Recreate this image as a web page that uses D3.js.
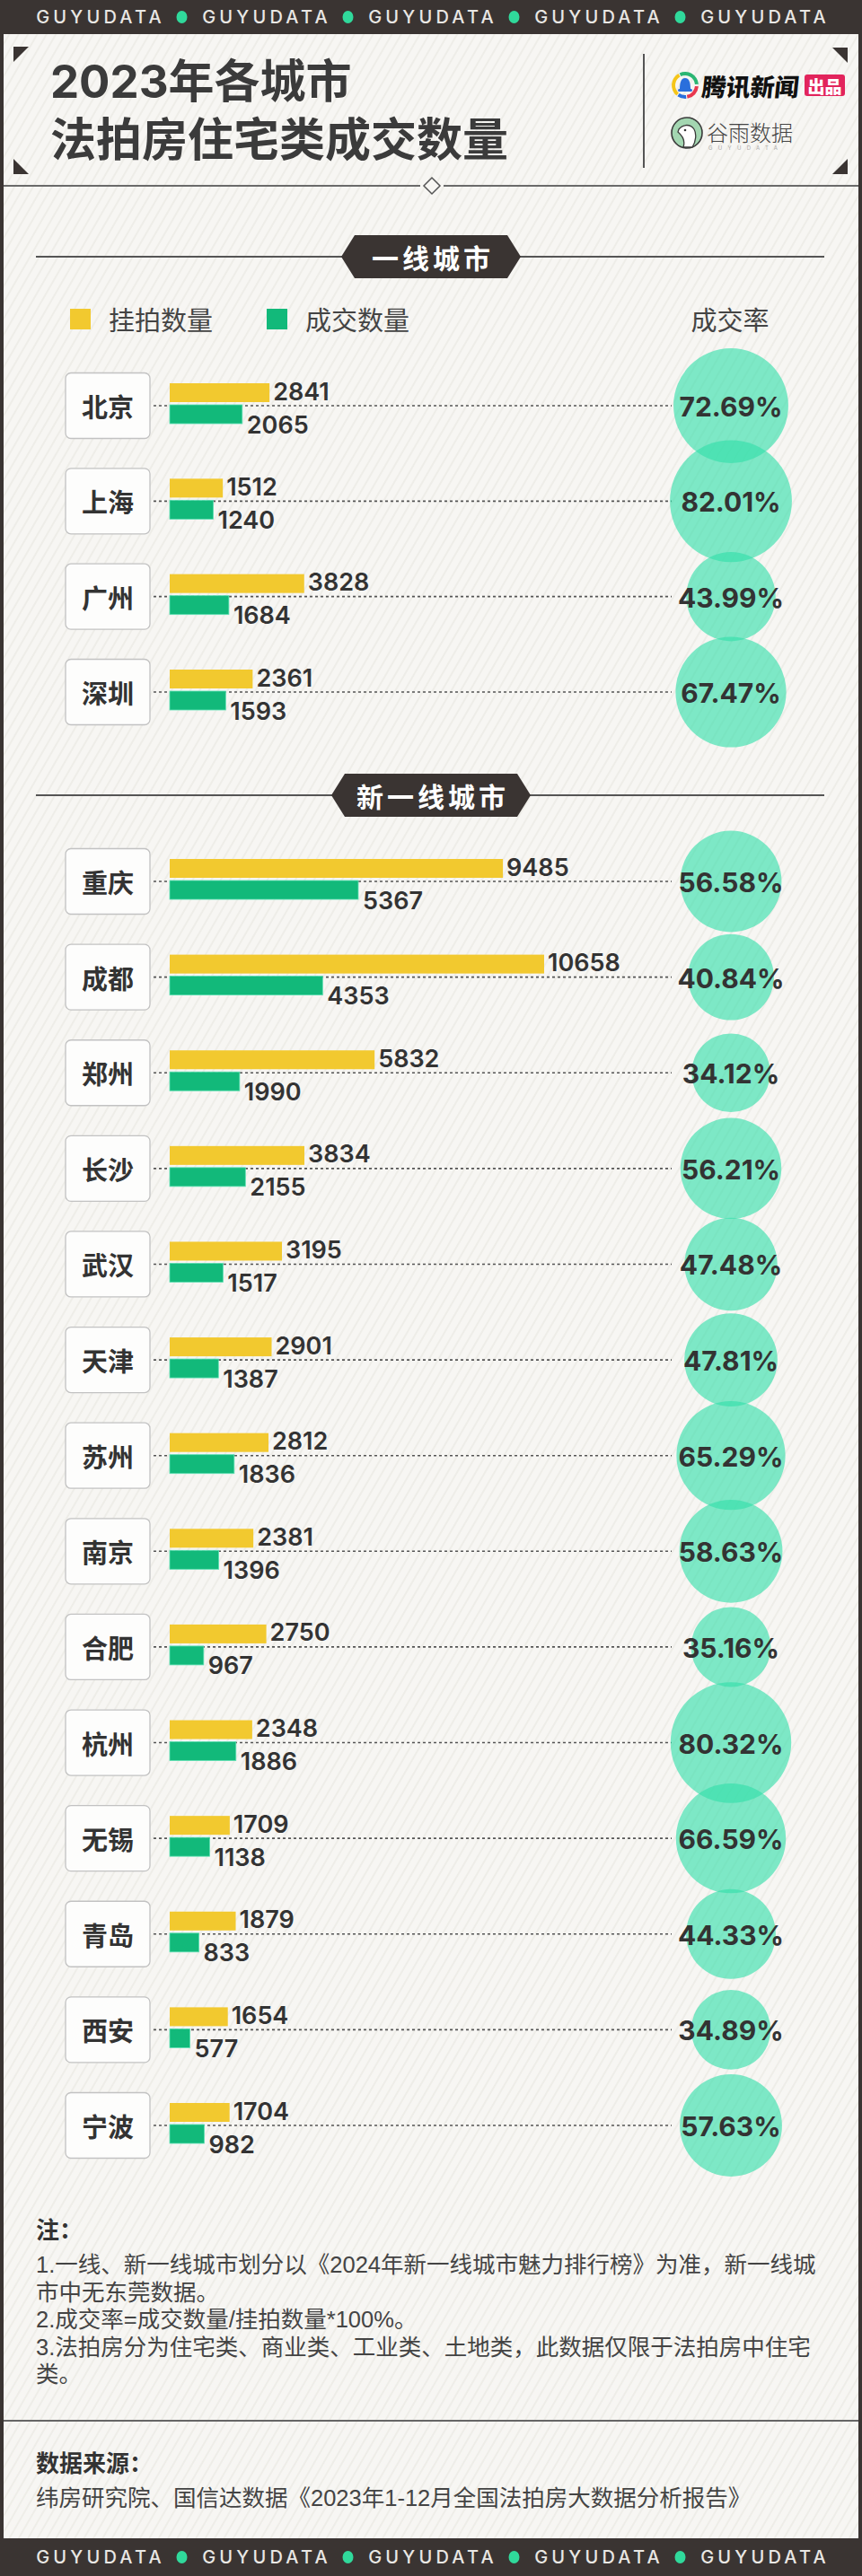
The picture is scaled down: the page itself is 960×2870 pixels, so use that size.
<!DOCTYPE html>
<html><head><meta charset="utf-8">
<script src="https://cdn.jsdelivr.net/npm/d3@7"></script>
<style>body{margin:0;background:#3a3432}svg{display:block}</style>
</head><body><svg id="c" width="960" height="2870"></svg>
<script>
// ---------------- DATA ----------------
const tier1Cities = ["北京","上海","广州","深圳"];
const tier1Listed = [2841,1512,3828,2361];
const tier1Sold   = [2065,1240,1684,1593];
const tier1Rate   = [72.69,82.01,43.99,67.47];

const tier2Cities = ["重庆","成都","郑州","长沙","武汉","天津","苏州","南京","合肥","杭州","无锡","青岛","西安","宁波"];
const tier2Listed = [9485,10658,5832,3834,3195,2901,2812,2381,2750,2348,1709,1879,1654,1704];
const tier2Sold   = [5367,4353,1990,2155,1517,1387,1836,1396,967,1886,1138,833,577,982];
const tier2Rate   = [56.58,40.84,34.12,56.21,47.48,47.81,65.29,58.63,35.16,80.32,66.59,44.33,34.89,57.63];

const sectionTitles = ["一线城市","新一线城市"];
const legendLabels = ["挂拍数量","成交数量"];
const rateLabel = "成交率";
const titleLines = ["2023年各城市","法拍房住宅类成交数量"];
const bandWord = "GUYUDATA";
const notesTitle = "注：";
const notesLines = [
  "1.一线、新一线城市划分以《2024年新一线城市魅力排行榜》为准，新一线城",
  "市中无东莞数据。",
  "2.成交率=成交数量/挂拍数量*100%。",
  "3.法拍房分为住宅类、商业类、工业类、土地类，此数据仅限于法拍房中住宅",
  "类。"
];
const sourceTitle = "数据来源：";
const sourceText = "纬房研究院、国信达数据《2023年1-12月全国法拍房大数据分析报告》";

// ---------------- STYLE ----------------
const DARK = "#3a3432", YELLOW = "#f2c92f", GREEN = "#12b97a", BUBBLE = "#32dfa9";
const CJK = "'Noto Sans CJK SC','Noto Sans',sans-serif";
const TITLE = "Inter,'Noto Sans CJK SC',sans-serif";
const NOTE = "'Liberation Sans','Noto Sans CJK SC',sans-serif";
const NUM = "Inter,'Noto Sans',sans-serif";

const svg = d3.select("#c");
const defs = svg.append("defs");
const pat = defs.append("pattern").attr("id","stripes").attr("patternUnits","userSpaceOnUse")
  .attr("width",9).attr("height",9).attr("patternTransform","rotate(30)");
pat.append("rect").attr("width",9).attr("height",9).attr("fill","#f7f6f3");
pat.append("line").attr("x1",1).attr("y1",0).attr("x2",1).attr("y2",9).attr("stroke","#ecebe6").attr("stroke-width",1.6);

// frame
svg.append("rect").attr("width",960).attr("height",2870).attr("fill",DARK);
svg.append("rect").attr("x",4).attr("y",38).attr("width",952).attr("height",2790).attr("fill","url(#stripes)");

// bands
function band(cy){
  const g = svg.append("g");
  const xs = d3.range(5).map(i => 110 + i*185);
  xs.forEach(x => g.append("text").attr("x",x+2).attr("y",cy).attr("text-anchor","middle")
    .attr("dominant-baseline","central").attr("font-family",NUM).attr("font-weight",500)
    .attr("font-size",20).attr("letter-spacing",4.2).attr("fill","#e9e7e4").text(bandWord));
  d3.range(4).forEach(i => g.append("ellipse").attr("cx",202.5+i*185).attr("cy",cy).attr("rx",6).attr("ry",7).attr("fill","#30d99b"));
}
band(19); band(2849);

// title corners
const tri = [[[15,52],[32,52],[15,69]],[[944,53],[927,53],[944,70]],[[15,177],[15,194],[32,194]],[[944,177],[944,194],[927,194]]];
tri.forEach(p => svg.append("path").attr("d","M"+p.map(q=>q.join(",")).join("L")+"Z").attr("fill",DARK));

// title
titleLines.forEach((t,i) => svg.append("text").attr("x",56).attr("y",[90,155][i]).attr("dominant-baseline","central")
  .attr("font-family",TITLE).attr("font-weight",700).attr("font-size",51).attr("fill","#3b3b3b").text(t));

// vertical divider
svg.append("line").attr("x1",717).attr("x2",717).attr("y1",60).attr("y2",187).attr("stroke","#555").attr("stroke-width",2);

// Tencent logo
(function(){
  const g = svg.append("g").attr("transform","translate(763,95)");
  const arc = d3.arc().innerRadius(11).outerRadius(15);
  [[-25,85,"#2bb673"],[95,170,"#e8384f"],[175,215,"#2a6fdc"],[220,330,"#f5c518"]].forEach(a =>
    g.append("path").attr("d",arc({startAngle:a[0]*Math.PI/180,endAngle:a[1]*Math.PI/180})).attr("fill",a[2]));
  g.append("path").attr("d","M-6,5 C-6,-2 -5,-8 0,-8 C5,-8 6,-2 6,5 Z").attr("fill","#2a6fdc");
  g.append("rect").attr("x",-8).attr("y",4).attr("width",16).attr("height",3).attr("rx",1.5).attr("fill","#2a6fdc");
  svg.append("text").attr("x",782).attr("y",96).attr("dominant-baseline","central").attr("font-family",CJK)
    .attr("font-weight",900).attr("font-size",27).attr("fill","#111").attr("transform","skewX(-6) translate(10,0)").text("腾讯新闻");
  svg.append("rect").attr("x",896).attr("y",83).attr("width",45).attr("height",24).attr("rx",3).attr("fill","#e2245c");
  svg.append("text").attr("x",918.5).attr("y",95.5).attr("text-anchor","middle").attr("dominant-baseline","central")
    .attr("font-family",CJK).attr("font-weight",900).attr("font-size",19).attr("fill","#fff").text("出品");
})();

// Guyu logo
(function(){
  const g = svg.append("g").attr("transform","translate(765,148)");
  g.append("circle").attr("r",17).attr("fill","#a3d6b1").attr("stroke","#3a3a3a").attr("stroke-width",1.6);
  g.append("path").attr("d","M-9,-4 C-4,-10 4,-10 8,-4 C11,1 10,10 6,16 L-4,16 C-2,10 -4,4 -10,-1 Z")
    .attr("fill","#fff").attr("stroke","#3a3a3a").attr("stroke-width",1.3);
  g.append("circle").attr("cx",-2).attr("cy",-3).attr("r",1.3).attr("fill","#333");
  svg.append("text").attr("x",787).attr("y",146).attr("dominant-baseline","central").attr("font-family",CJK)
    .attr("font-weight",300).attr("font-size",24).attr("fill","#444").text("谷雨数据");
  svg.append("text").attr("x",789).attr("y",164).attr("dominant-baseline","central").attr("font-family",NUM)
    .attr("font-size",6).attr("letter-spacing",6.3).attr("fill","#aaa").text(bandWord);
})();

// divider with diamond
svg.append("line").attr("x1",4).attr("x2",468).attr("y1",207).attr("y2",207).attr("stroke","#6a6a6a").attr("stroke-width",2);
svg.append("line").attr("x1",494).attr("x2",956).attr("y1",207).attr("y2",207).attr("stroke","#6a6a6a").attr("stroke-width",2);
svg.append("path").attr("d","M481,198 L490,207 L481,216 L472,207 Z").attr("fill","#f7f6f3").attr("stroke","#555").attr("stroke-width",1.5);

// section header
function sectionHeader(cy, label, half){
  svg.append("line").attr("x1",40).attr("x2",918).attr("y1",cy).attr("y2",cy).attr("stroke","#555").attr("stroke-width",2);
  const l = 480-half, r = 480+half;
  svg.append("path").attr("d",`M${l},${cy} L${l+15},${cy-24} L${r-15},${cy-24} L${r},${cy} L${r-15},${cy+24} L${l+15},${cy+24} Z`).attr("fill",DARK);
  svg.append("text").attr("x",482).attr("y",cy).attr("text-anchor","middle").attr("dominant-baseline","central")
    .attr("font-family",CJK).attr("font-weight",700).attr("font-size",30).attr("letter-spacing",4).attr("fill","#fff").text(label);
}
sectionHeader(286, sectionTitles[0], 100);
sectionHeader(886, sectionTitles[1], 111);

// legend
const legendColors = [YELLOW, GREEN];
[78,297].forEach((x,i) => {
  svg.append("rect").attr("x",x).attr("y",344).attr("width",23).attr("height",23).attr("fill",legendColors[i]);
  svg.append("text").attr("x",x+43).attr("y",355).attr("dominant-baseline","central").attr("font-family",CJK)
    .attr("font-size",29).attr("fill","#444").text(legendLabels[i]);
});
svg.append("text").attr("x",813).attr("y",355).attr("text-anchor","middle").attr("dominant-baseline","central")
  .attr("font-family",CJK).attr("font-size",29).attr("fill","#444").text(rateLabel);

// scales
const maxVal = d3.max(tier1Listed.concat(tier2Listed));
const x = d3.scaleLinear().domain([0, maxVal]).range([189, 606]);
const r = d3.scaleSqrt().domain([0,100]).range([0,75]);
const fmtRate = d => d3.format(".2f")(d) + "%";

const bubbleLayer = [];
function drawSection(cities, listed, sold, rate, y0, y1){
  const y = d3.scalePoint().domain(cities).range([y0, y1]);
  const g = svg.append("g");
  cities.forEach((c,i) => {
    const cy = y(c);
    g.append("line").attr("x1",171).attr("x2",748).attr("y1",cy).attr("y2",cy)
      .attr("stroke","#555").attr("stroke-width",1.6).attr("stroke-dasharray","3,3");
    g.append("rect").attr("x",73).attr("y",cy-36.5).attr("width",94).attr("height",73).attr("rx",6)
      .attr("fill","#fdfdfc").attr("stroke","#c2c2c2").attr("stroke-width",1.3);
    g.append("text").attr("x",120).attr("y",cy).attr("text-anchor","middle").attr("dominant-baseline","central")
      .attr("font-family",CJK).attr("font-weight",700).attr("font-size",29).attr("fill","#333").text(c);
    g.append("rect").attr("x",x(0)).attr("y",cy-25).attr("width",x(listed[i])-x(0)).attr("height",21).attr("fill",YELLOW);
    g.append("rect").attr("x",x(0)).attr("y",cy-1).attr("width",x(sold[i])-x(0)).attr("height",21)
      .attr("fill",GREEN).attr("stroke","#5fe0b4").attr("stroke-width",0.8);
    g.append("text").attr("x",x(listed[i])+4).attr("y",cy-16).attr("dominant-baseline","central")
      .attr("font-family",NUM).attr("font-weight",600).attr("font-size",27).attr("fill","#333").text(listed[i]);
    g.append("text").attr("x",x(sold[i])+5).attr("y",cy+21).attr("dominant-baseline","central")
      .attr("font-family",NUM).attr("font-weight",600).attr("font-size",27).attr("fill","#333").text(sold[i]);
    bubbleLayer.push({cy, v: rate[i]});
  });
}
drawSection(tier1Cities, tier1Listed, tier1Sold, tier1Rate, 452, 771);
drawSection(tier2Cities, tier2Listed, tier2Sold, tier2Rate, 982, 2368);

const bg = svg.append("g");
bg.selectAll("circle").data(bubbleLayer).join("circle")
  .attr("cx",814).attr("cy",d=>d.cy).attr("r",d=>r(d.v)).attr("fill",BUBBLE).attr("fill-opacity",0.62);
bg.selectAll("text").data(bubbleLayer).join("text")
  .attr("x",814).attr("y",d=>d.cy+1).attr("text-anchor","middle").attr("dominant-baseline","central")
  .attr("font-family",NUM).attr("font-weight",700).attr("font-size",30).attr("fill","#333").text(d=>fmtRate(d.v));

// notes
svg.append("text").attr("x",40).attr("y",2485).attr("dominant-baseline","central").attr("font-family",NOTE)
  .attr("font-weight",700).attr("font-size",26).attr("fill","#333").text(notesTitle);
notesLines.forEach((t,i) => svg.append("text").attr("x",40).attr("y",2523+i*30.5).attr("dominant-baseline","central")
  .attr("font-family",NOTE).attr("font-size",25.5).attr("fill","#444").text(t));
svg.append("line").attr("x1",4).attr("x2",956).attr("y1",2697).attr("y2",2697).attr("stroke","#666").attr("stroke-width",2);
svg.append("text").attr("x",40).attr("y",2745).attr("dominant-baseline","central").attr("font-family",NOTE)
  .attr("font-weight",700).attr("font-size",26).attr("fill","#333").text(sourceTitle);
svg.append("text").attr("x",40).attr("y",2783).attr("dominant-baseline","central").attr("font-family",NOTE)
  .attr("font-size",25.5).attr("fill","#444").text(sourceText);
</script></body></html>
